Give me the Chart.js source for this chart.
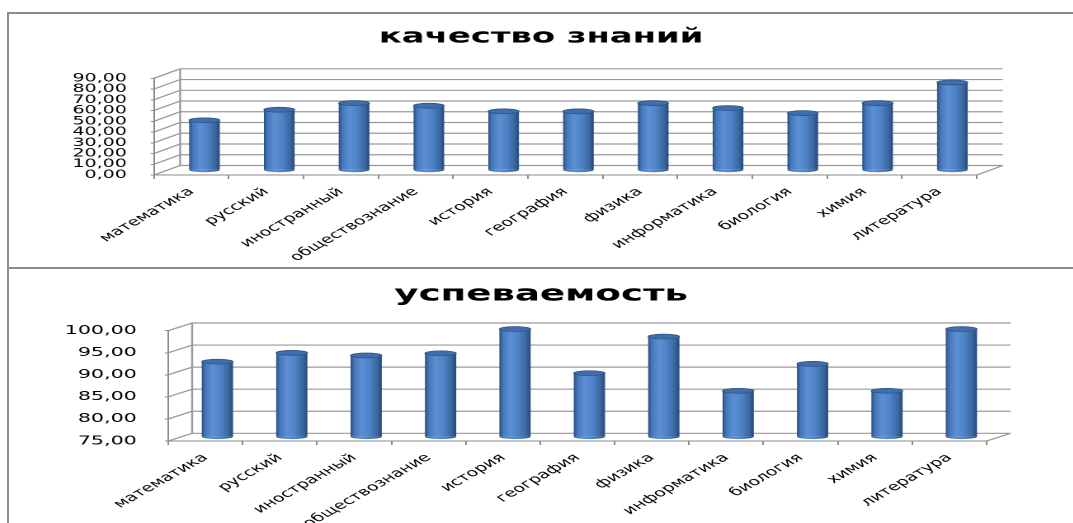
<!DOCTYPE html>
<html>
<head>
<meta charset="utf-8">
<script src="https://cdn.jsdelivr.net/npm/chart.js@4.4.0/dist/chart.umd.min.js"></script>
<style>
    html, body { margin: 0; padding: 0; background: #fff; width: 1073px; height: 523px; overflow: hidden; }
    .panel { position: absolute; left: 7px; width: 1066px; border-left: 2px solid #8c8c8c; border-top: 2px solid #8c8c8c; overflow: hidden; }
    #p1 { top: 12px; height: 253px; }
    #p2 { top: 267px; height: 254px; }
    /* the source picture is stretched sideways, so the charts are too */
    .stretch { position: absolute; left: 0; top: 0; width: 645px; transform: scaleX(1.65); transform-origin: 0 0; }
    #p1 .stretch { height: 253px; }
    #p2 .stretch { height: 254px; }
</style>
</head>
<body>
<div class="panel" id="p1"><div class="stretch"><canvas id="quality"></canvas></div></div>
<div class="panel" id="p2"><div class="stretch"><canvas id="success"></canvas></div></div>
<script>
const SUBJECTS = ['математика', 'русский', 'иностранный', 'обществознание', 'история', 'география',
    'физика', 'информатика', 'биология', 'химия', 'литература'];
const QUALITY = [46.5, 56.3, 62.5, 60.0, 54.8, 54.8, 62.5, 57.9, 53.2, 62.5, 81.7];
const SUCCESS = [92.1, 94.1, 93.5, 94.0, 99.5, 89.5, 97.8, 85.5, 91.6, 85.5, 99.5];
const QUALITY_TICKS = [0, 10, 20, 30, 40, 50, 60, 70, 80, 90];
const SUCCESS_TICKS = [75, 80, 85, 90, 95, 100];

const FONT = 'DejaVu Sans';
const AXIS = '#8a8a8a';
const GRID = '#999999';
const fmt = v => v.toFixed(2).replace('.', ',');

// horizontal gradient so the bars read as cylinders
function cylinderFill(c) {
    const x = c.chart.scales.x;
    const solid = '#4a7cbf';
    if (!x || c.type !== 'data') return solid;
    const mid = x.getPixelForValue(c.dataIndex);
    const w = x.width / SUBJECTS.length * c.dataset.barPercentage;
    if (!isFinite(mid) || !isFinite(w) || w <= 0) return solid;
    const g = c.chart.ctx.createLinearGradient(mid - w / 2, 0, mid + w / 2, 0);
    g.addColorStop(0, '#2a4e7e');
    g.addColorStop(0.12, '#4577ba');
    g.addColorStop(0.35, '#5c90d4');
    g.addColorStop(0.6, '#4f83c6');
    g.addColorStop(0.85, '#3a689f');
    g.addColorStop(1, '#28497a');
    return g;
}

// back wall + floor of the pseudo 3D box, bars pushed to mid depth, caps on bars
const depthPlugin = {
    id: 'depth',
    beforeDatasetsDraw(chart, args, opts) {
        const { ctx, chartArea: a, scales: { y } } = chart;
        const { dx, dy } = opts;
        ctx.save();
        ctx.strokeStyle = GRID;
        ctx.lineWidth = 1.2;
        ctx.beginPath();
        y.ticks.forEach(t => {
            const py = y.getPixelForValue(t.value);
            ctx.moveTo(a.left, py);
            ctx.lineTo(a.left + dx, py + dy);
            ctx.lineTo(a.right + dx, py + dy);
        });
        ctx.moveTo(a.left + dx, a.bottom + dy);
        ctx.lineTo(a.left + dx, a.top + dy);
        ctx.moveTo(a.right, a.bottom);
        ctx.lineTo(a.right + dx, a.bottom + dy);
        ctx.stroke();
        ctx.restore();
        ctx.save();
        ctx.translate(dx / 2, dy / 2);
    },
    afterDatasetsDraw(chart, args, opts) {
        const ctx = chart.ctx;
        chart.getDatasetMeta(0).data.forEach(bar => {
            const { x, y, base, width } = bar.getProps(['x', 'y', 'base', 'width'], true);
            const r = width / 2;
            ctx.beginPath();
            ctx.ellipse(x, base, r, opts.ry, 0, 0, Math.PI);
            ctx.fillStyle = bar.options.backgroundColor;
            ctx.fill();
            ctx.beginPath();
            ctx.ellipse(x, y, r, opts.ry, 0, 0, 2 * Math.PI);
            ctx.fillStyle = '#3f6eab';
            ctx.fill();
            ctx.lineWidth = 0.7;
            ctx.strokeStyle = '#2c5182';
            ctx.stroke();
        });
        ctx.restore();
    }
};

function makeChart(id, cfg) {
    const tickVals = cfg.ticks;
    return new Chart(document.getElementById(id), {
        type: 'bar',
        data: {
            labels: SUBJECTS,
            datasets: [{
                data: cfg.values,
                base: tickVals[0],
                backgroundColor: cylinderFill,
                borderWidth: 0,
                barPercentage: cfg.barPct,
                categoryPercentage: 1,
                clip: false
            }]
        },
        options: {
            responsive: true,
            maintainAspectRatio: false,
            animation: false,
            devicePixelRatio: 2,
            layout: { padding: 0 },
            plugins: {
                legend: { display: false },
                tooltip: { enabled: false },
                title: {
                    display: true,
                    text: cfg.title,
                    color: '#000',
                    font: { family: FONT, size: cfg.titleSize, weight: 'bold' },
                    padding: { top: cfg.titleTop, bottom: cfg.titleBottom }
                },
                depth: { dx: cfg.dx, dy: cfg.dy, ry: 2.5 }
            },
            scales: {
                x: {
                    grid: { drawOnChartArea: false, tickLength: 4, color: AXIS },
                    border: { color: AXIS },
                    ticks: { minRotation: 43, maxRotation: 43, padding: 6, color: '#000', font: { family: FONT, size: 11.5 } },
                    afterFit: s => { s.height = cfg.xHeight; }
                },
                y: {
                    min: tickVals[0],
                    max: tickVals[tickVals.length - 1],
                    afterBuildTicks: s => { s.ticks = tickVals.map(v => ({ value: v })); },
                    grid: { drawOnChartArea: false, tickLength: 2, color: AXIS },
                    border: { color: AXIS },
                    ticks: { autoSkip: false, callback: fmt, padding: cfg.yPad, color: '#000', font: { family: FONT, size: cfg.yFont } },
                    afterFit: s => { s.width = cfg.yWidth; }
                },
                // empty axis that only reserves the room on the right for the back wall
                side: {
                    position: 'right',
                    display: true,
                    grid: { display: false },
                    border: { display: false },
                    ticks: { display: false },
                    afterFit: s => { s.width = cfg.padRight; }
                }
            }
        },
        plugins: [depthPlugin]
    });
}

makeChart('quality', {
    title: 'качество знаний', values: QUALITY, ticks: QUALITY_TICKS,
    barPct: 0.41, yWidth: 87.9, padRight: 58.5, xHeight: 92,
    titleSize: 20.5, titleTop: 10.7, titleBottom: 29.0, yPad: 14.5, yFont: 11.5,
    dx: 15.8, dy: -9.5
});
makeChart('success', {
    title: 'успеваемость', values: SUCCESS, ticks: SUCCESS_TICKS,
    barPct: 0.42, yWidth: 96.5, padRight: 52.5, xHeight: 82,
    titleSize: 22.5, titleTop: 12.2, titleBottom: 22.5, yPad: 17, yFont: 12.5,
    dx: 14.5, dy: -7.7
});
</script>
</body>
</html>
